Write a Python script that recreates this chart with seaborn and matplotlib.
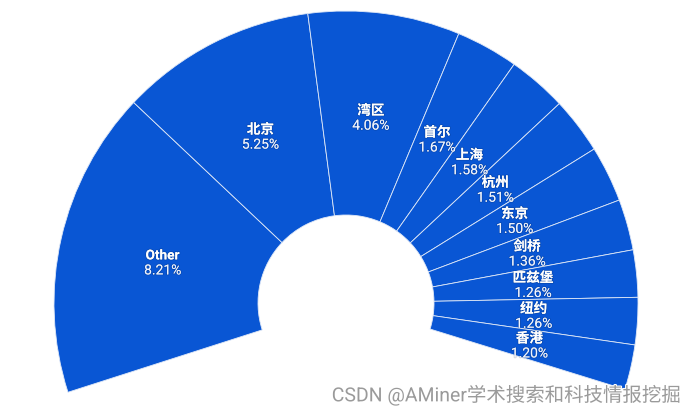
import numpy as np
import matplotlib
matplotlib.use('Agg')
import matplotlib.pyplot as plt
import matplotlib.patheffects as pe
import seaborn as sns

cities = ['Other', '北京', '湾区', '首尔', '上海', '杭州', '东京', '剑桥', '匹兹堡', '纽约', '香港']
shares = [8.21, 5.25, 4.06, 1.67, 1.58, 1.51, 1.50, 1.36, 1.26, 1.26, 1.20]
pct_labels = ['8.21%', '5.25%', '4.06%', '1.67%', '1.58%', '1.51%', '1.50%', '1.36%', '1.26%', '1.26%', '1.20%']

sns.set_style('white')
plt.rcParams['font.family'] = ['Roboto', 'Noto Sans CJK SC', 'DejaVu Sans']

fig = plt.figure(figsize=(6.93, 4.16), dpi=100)
ax = fig.add_axes([0, 0, 1, 1])

# each percent point takes ~7.45 degrees of the arc
deg_per_pct = 7.45
fracs = np.array(shares) * deg_per_pct / 360
cx, cy = 346, 113
R, width = 292, 204

wedges, _ = ax.pie(fracs, startangle=197.8, counterclock=False, radius=R, center=(cx, cy),
                   normalize=False, colors=['#0956d4'] * len(fracs),
                   wedgeprops=dict(width=width, edgecolor='#dfe8f7', linewidth=0.6))

shadow = [pe.withStroke(linewidth=1.2, foreground=(0, 0, 0, 0.15))]
r_lab = R - width / 2 - 2
for w, name, pct in zip(wedges, cities, pct_labels):
    mid = np.deg2rad((w.theta1 + w.theta2) / 2)
    x = cx + r_lab * np.cos(mid)
    y = cy + r_lab * np.sin(mid)
    ax.text(x, y + 6, name, color='white', fontsize=9.8, fontweight='bold',
            ha='center', va='center', path_effects=shadow)
    ax.text(x, y - 9, pct, color='#eef3ff', fontsize=10,
            ha='center', va='center', path_effects=shadow)

ax.text(682, 21, 'CSDN @AMiner学术搜索和科技情报挖掘', color='#9a9a9a', fontsize=14,
        ha='right', va='center',
        path_effects=[pe.withStroke(linewidth=1.5, foreground='white')])

ax.set_xlim(0, 693)
ax.set_ylim(0, 416)
ax.set_aspect('equal')
ax.axis('off')

fig.savefig('out.png', dpi=100)
